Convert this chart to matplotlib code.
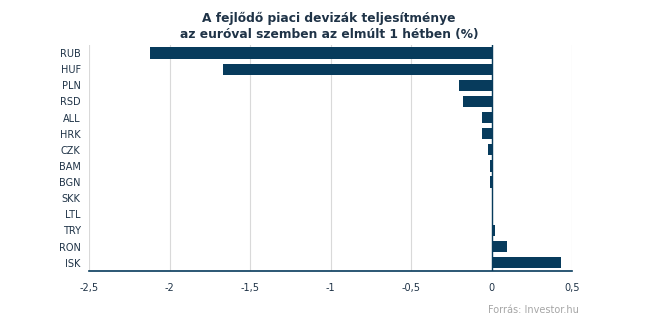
import matplotlib.pyplot as plt

plt.rcParams['font.family'] = 'DejaVu Sans'

currencies = ['RUB', 'HUF', 'PLN', 'RSD', 'ALL', 'HRK', 'CZK',
              'BAM', 'BGN', 'SKK', 'LTL', 'TRY', 'RON', 'ISK']
change_pct = [-2.12, -1.67, -0.20, -0.18, -0.06, -0.06, -0.022,
              -0.009, -0.009, 0.0, 0.0, 0.022, 0.096, 0.43]
x_ticks = [-2.5, -2, -1.5, -1, -0.5, 0, 0.5]
x_labels = ['-2,5', '-2', '-1,5', '-1', '-0,5', '0', '0,5']

navy = '#073b5c'
text_col = '#1f3347'

fig = plt.figure(figsize=(6.45, 3.31), dpi=100)
ax = fig.add_axes([0.138, 0.182, 0.749, 0.682])

ypos = range(len(currencies))
ax.barh(ypos, change_pct, height=0.7, color=navy, zorder=3)
ax.set_ylim(len(currencies) - 0.5, -0.5)
ax.set_xlim(-2.5, 0.5)

ax.set_yticks(list(ypos))
ax.set_yticklabels(currencies, fontsize=7, color=text_col)
ax.set_xticks(x_ticks)
ax.set_xticklabels(x_labels, fontsize=7, color=text_col)
ax.tick_params(axis='y', length=0, pad=6)
ax.tick_params(axis='x', length=0, pad=9)

ax.grid(True, axis='x', color='#d9d9d9', linewidth=0.8, zorder=0)
ax.axvline(0, color=navy, linewidth=1.0, zorder=4)

for s in ['top', 'right', 'left']:
    ax.spines[s].set_visible(False)
ax.spines['bottom'].set_color(navy)
ax.spines['bottom'].set_linewidth(1.2)

fig.text(0.51, 0.965, 'A fejlődő piaci devizák teljesítménye\naz euróval szemben az elmúlt 1 hétben (%)',
         ha='center', va='top', fontsize=8.8, fontweight='bold', color=text_col, linespacing=1.3)
fig.text(0.897, 0.063, 'Forrás: Investor.hu', ha='right', va='center', fontsize=7, color='#a6a6a6')

fig.savefig('out.png', dpi=100)
